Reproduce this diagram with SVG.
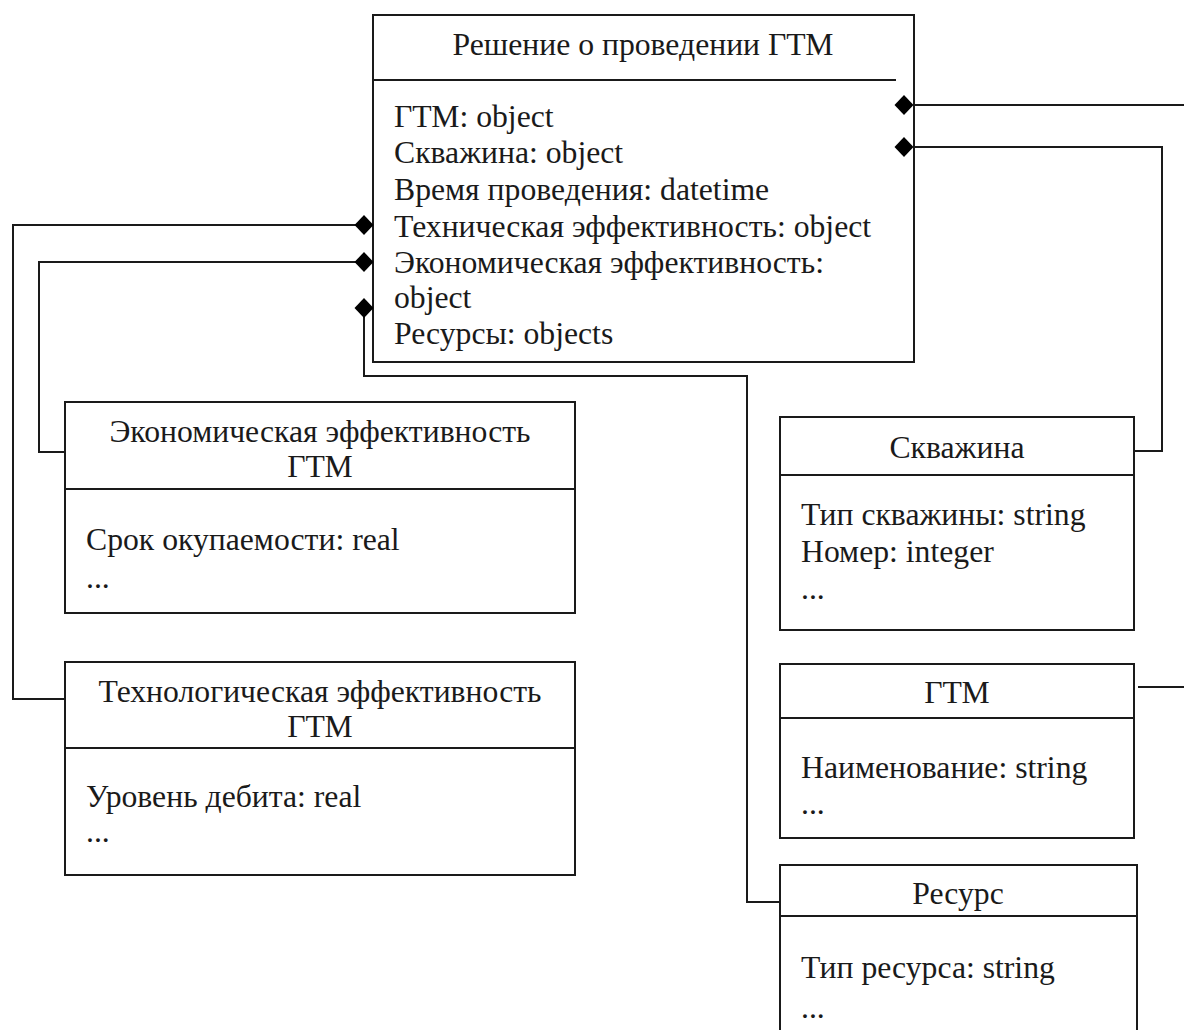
<svg xmlns="http://www.w3.org/2000/svg" xmlns:xlink="http://www.w3.org/1999/xlink" width="1184" height="1030" viewBox="0 0 1184 1030">
  <style>
    .box { fill: #ffffff; stroke: #1a1a1a; stroke-width: 2; }
    .sep { stroke: #1a1a1a; stroke-width: 2; fill: none; }
    .wire { stroke: #1a1a1a; stroke-width: 2; fill: none; }
    .dia { fill: #000000; stroke: none; }
    .txt { font-family: "Times New Roman", "Liberation Serif", "Noto Serif", "DejaVu Serif", serif; font-size: 31.7px; fill: #1a1a1a; }
    .title { text-anchor: middle; }
  </style>
  <defs>
    <path id="diamond" class="dia" d="M-9.5,0 L0,-10 L9.5,0 L0,10 Z"/>
  </defs>

  <g class="txt">
  <!-- decision class -->
  <g id="node-decision">
    <rect class="box" x="373" y="15" width="541" height="347"/>
    <line class="sep" x1="373" y1="80" x2="896" y2="80"/>
    <text class="title" x="643" y="55">Решение о проведении ГТМ</text>
    <text x="394" y="127">ГТМ: object</text>
    <text x="394" y="163">Скважина: object</text>
    <text x="394" y="200">Время проведения: datetime</text>
    <text x="394" y="237">Техническая эффективность: object</text>
    <text x="394" y="273">Экономическая эффективность:</text>
    <text x="394" y="308">object</text>
    <text x="394" y="344">Ресурсы: objects</text>
  </g>

  <!-- economic efficiency class -->
  <g id="node-economic">
    <rect class="box" x="65" y="402" width="510" height="211"/>
    <line class="sep" x1="65" y1="489" x2="575" y2="489"/>
    <text class="title" x="320" y="442">Экономическая эффективность</text>
    <text class="title" x="320" y="477">ГТМ</text>
    <text x="86" y="550">Срок окупаемости: real</text>
    <text x="86" y="588">...</text>
  </g>

  <!-- technological efficiency class -->
  <g id="node-technological">
    <rect class="box" x="65" y="662" width="510" height="213"/>
    <line class="sep" x1="65" y1="748" x2="575" y2="748"/>
    <text class="title" x="320" y="702">Технологическая эффективность</text>
    <text class="title" x="320" y="737">ГТМ</text>
    <text x="86" y="807">Уровень дебита: real</text>
    <text x="86" y="842">...</text>
  </g>

  <!-- well class -->
  <g id="node-well">
    <rect class="box" x="780" y="417" width="354" height="213"/>
    <line class="sep" x1="780" y1="475" x2="1134" y2="475"/>
    <text class="title" x="957" y="458">Скважина</text>
    <text x="801" y="525">Тип скважины: string</text>
    <text x="801" y="562">Номер: integer</text>
    <text x="801" y="599">...</text>
  </g>

  <!-- GTM class -->
  <g id="node-gtm">
    <rect class="box" x="780" y="664" width="354" height="174"/>
    <line class="sep" x1="780" y1="718" x2="1134" y2="718"/>
    <text class="title" x="957" y="703">ГТМ</text>
    <text x="801" y="778">Наименование: string</text>
    <text x="801" y="814">...</text>
  </g>

  <!-- resource class -->
  <g id="node-resource">
    <rect class="box" x="780" y="865" width="357" height="180"/>
    <line class="sep" x1="780" y1="916" x2="1137" y2="916"/>
    <text class="title" x="958" y="904">Ресурс</text>
    <text x="801" y="978">Тип ресурса: string</text>
    <text x="801" y="1018">...</text>
  </g>
  </g>

  <!-- connectors, drawn over the class boxes so the diamonds stay visible -->
  <g id="connectors">
    <path class="wire" d="M363,225 H13 V699 H65"/>
    <path class="wire" d="M363,262 H39 V452 H65"/>
    <path class="wire" d="M364,308 V376 H747 V902 H780"/>
    <path class="wire" d="M914,105 H1186"/>
    <path class="wire" d="M914,147 H1162 V451 H1134"/>
    <path class="wire" d="M1138,687 H1186"/>
    <use xlink:href="#diamond" x="904" y="105"/>
    <use xlink:href="#diamond" x="904" y="147"/>
    <use xlink:href="#diamond" x="364" y="225"/>
    <use xlink:href="#diamond" x="364" y="262"/>
    <use xlink:href="#diamond" x="364" y="308"/>
  </g>
</svg>
